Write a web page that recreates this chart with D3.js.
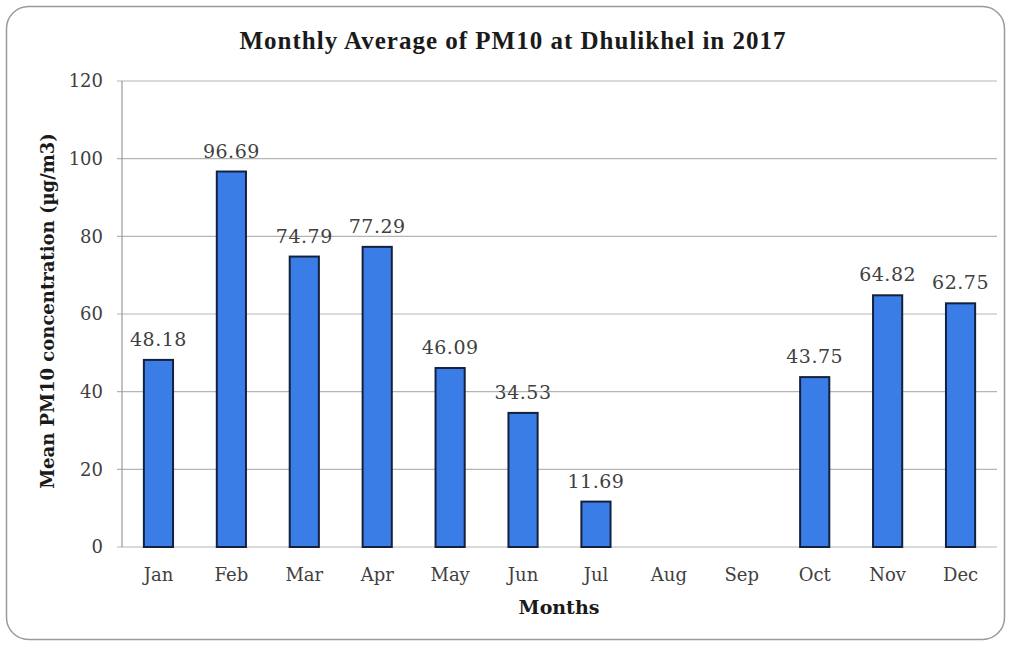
<!DOCTYPE html>
<html><head><meta charset="utf-8">
<script src="https://cdn.jsdelivr.net/npm/d3@7"></script>
<style>body{margin:0;background:#fff;}svg{display:block;}</style>
</head><body>
<script>
const months = ["Jan","Feb","Mar","Apr","May","Jun","Jul","Aug","Sep","Oct","Nov","Dec"];
const values = [48.18,96.69,74.79,77.29,46.09,34.53,11.69,null,null,43.75,64.82,62.75];
const yTicks = [0,20,40,60,80,100,120];
const title = "Monthly Average of PM10 at Dhulikhel in 2017";
const xTitle = "Months";
const yTitle = "Mean PM10 concentration (µg/m3)";

const W = 1010, H = 645;
const m = {left:122, right:13, top:81, bottom:98};
const svg = d3.select("body").append("svg").attr("width",W).attr("height",H);
const font = "'DejaVu Serif', 'Liberation Serif', serif";
const tfont = "'Liberation Serif', serif";

svg.append("rect").attr("x",6.5).attr("y",6.5).attr("width",998).attr("height",633)
  .attr("rx",22).attr("fill","#fff").attr("stroke","#9a9a9a").attr("stroke-width",1.5);

const x = d3.scaleBand().domain(months).range([m.left, W-m.right]).paddingInner(0.6).paddingOuter(0.3);
const y = d3.scaleLinear().domain([0,120]).range([H-m.bottom, m.top]);

svg.append("g").selectAll("line").data(yTicks).join("line")
  .attr("x1",m.left-5).attr("x2",W-m.right)
  .attr("y1",d=>y(d)).attr("y2",d=>y(d))
  .attr("stroke","#b5b5b5").attr("stroke-width",1.2);
svg.append("line").attr("x1",m.left).attr("x2",m.left).attr("y1",y(120)).attr("y2",y(0))
  .attr("stroke","#999").attr("stroke-width",1.2);

const yAxis = svg.append("g").attr("transform",`translate(${m.left},0)`)
  .call(d3.axisLeft(y).tickValues(yTicks).tickSize(0).tickPadding(19));
yAxis.select(".domain").remove();
yAxis.selectAll("text").attr("font-family",font).attr("font-size",18).attr("fill","#404040");

const xAxis = svg.append("g").attr("transform",`translate(0,${y(0)})`)
  .call(d3.axisBottom(x).tickSize(0).tickPadding(21));
xAxis.select(".domain").remove();
xAxis.selectAll("text").attr("font-family",font).attr("font-size",18).attr("fill","#404040");

const data = months.map((mo,i)=>({mo, v:values[i]})).filter(d=>d.v!=null);
svg.append("g").selectAll("rect").data(data).join("rect")
  .attr("x",d=>x(d.mo)).attr("width",x.bandwidth())
  .attr("y",d=>y(d.v)).attr("height",d=>y(0)-y(d.v))
  .attr("fill","#3b7de6").attr("stroke","#14213d").attr("stroke-width",2);

svg.append("g").selectAll("text").data(data).join("text")
  .attr("x",d=>x(d.mo)+x.bandwidth()/2).attr("y",d=>y(d.v)-14)
  .attr("text-anchor","middle").attr("font-family",font).attr("font-size",19).attr("letter-spacing",0.5)
  .attr("fill","#404040")
  .text(d=>d.v.toFixed(2));

svg.append("text").attr("x",513).attr("y",49).attr("text-anchor","middle")
  .attr("font-family",tfont).attr("font-weight","bold").attr("font-size",25).attr("letter-spacing",1)
  .attr("fill","#1a1a1a").text(title);
svg.append("text").attr("x",559).attr("y",614).attr("text-anchor","middle")
  .attr("font-family",font).attr("font-weight","bold").attr("font-size",19).attr("fill","#1a1a1a")
  .text(xTitle);
svg.append("text").attr("transform","translate(54,311) rotate(-90)").attr("text-anchor","middle")
  .attr("font-family",font).attr("font-weight","bold").attr("font-size",18).attr("fill","#1a1a1a")
  .text(yTitle);
</script>
</body></html>
